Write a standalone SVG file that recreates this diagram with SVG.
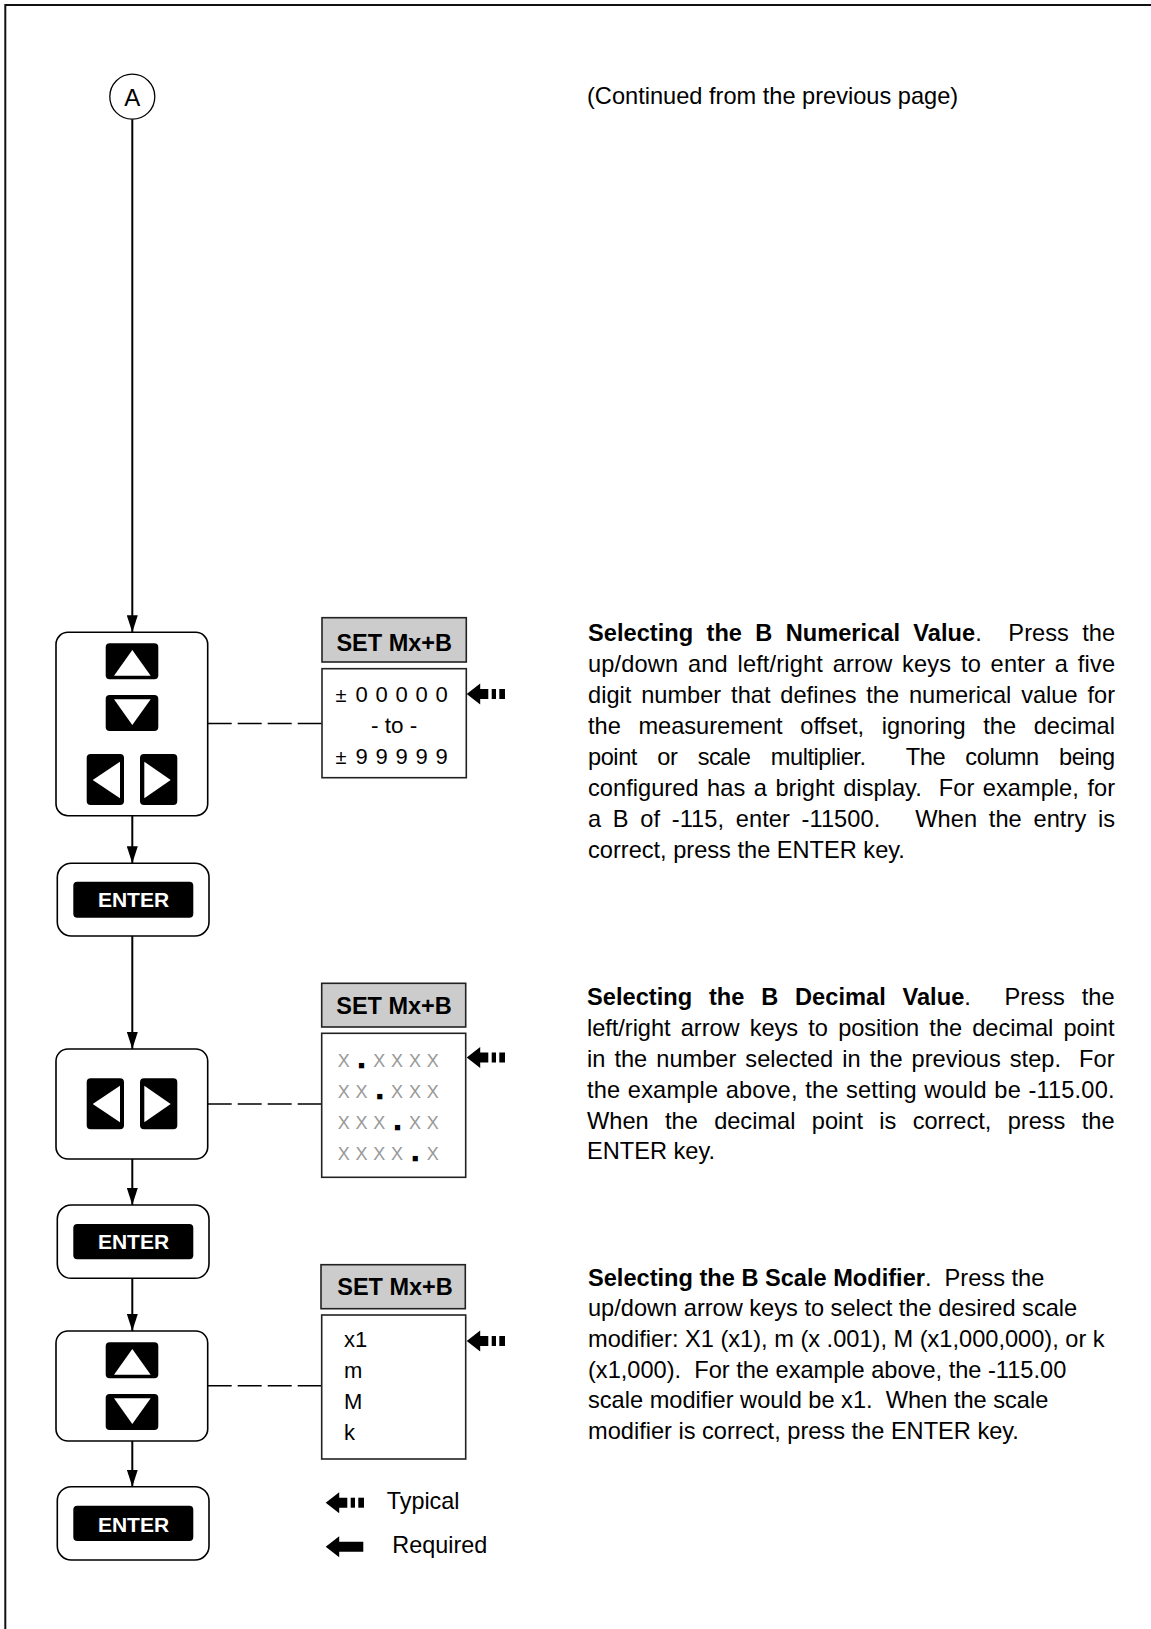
<svg xmlns="http://www.w3.org/2000/svg" xmlns:xlink="http://www.w3.org/1999/xlink" width="1151" height="1629" viewBox="0 0 1151 1629">
<style>
  .txt { font-family: "Liberation Sans", Arial, sans-serif; fill: #000; }
  .p { font-family: "Liberation Sans", Arial, sans-serif; font-size: 23.6px; fill: #000; }
  .b { font-weight: bold; }
  .pad { fill: #fff; stroke: #000; stroke-width: 1.6; }
  .key { fill: #000; }
  .tri { fill: #fff; }
  .hdr { fill: #cccccc; stroke: #222; stroke-width: 1.6; }
  .hdrtxt { font-family: "Liberation Sans", Arial, sans-serif; font-weight: bold; font-size: 23.5px; fill: #000; text-anchor: middle; }
  .disp { fill: #fff; stroke: #222; stroke-width: 1.6; }
  .entertxt { font-family: "Liberation Sans", Arial, sans-serif; font-weight: bold; font-size: 21px; fill: #fff; text-anchor: middle; }
  .flow { stroke: #000; stroke-width: 2; fill: none; marker-end: url(#ah); }
  .dash { stroke: #000; stroke-width: 1.5; fill: none; stroke-dasharray: 24 6; }
  .xrow { font-size: 18px; }
  .xg { fill: #999; }
  .dot { fill: #000; stroke: #000; stroke-width: 2.6; font-weight: bold; }
</style>
<defs>
  <marker id="ah" markerUnits="userSpaceOnUse" markerWidth="17" markerHeight="11" viewBox="0 0 17 11" refX="17" refY="5.5" orient="auto">
    <path d="M0,0 L17,5.5 L0,11 Z" fill="#000"/>
  </marker>
  <g id="typ">
    <path d="M0,0 L13.5,-10.5 L13.5,-5 L21.6,-5 L21.6,5 L13.5,5 L13.5,10.5 Z" fill="#000"/>
    <rect x="25" y="-5" width="4.3" height="10" fill="#000"/>
    <rect x="32.6" y="-5" width="5.7" height="10" fill="#000"/>
  </g>
  <g id="req">
    <path d="M0,0 L13.5,-10.5 L13.5,-5 L37.6,-5 L37.6,5 L13.5,5 L13.5,10.5 Z" fill="#000"/>
  </g>
</defs>
<rect x="0" y="0" width="1151" height="1629" fill="#fff"/>
<path d="M5.3,1629 V5 H1151" fill="none" stroke="#111" stroke-width="2"/>

<g id="connectors">
  <line class="flow" x1="132.3" y1="119.3" x2="132.3" y2="632.3"/>
  <line class="flow" x1="132.3" y1="815.7" x2="132.3" y2="863.3"/>
  <line class="flow" x1="132.3" y1="936" x2="132.3" y2="1049"/>
  <line class="flow" x1="132.3" y1="1159" x2="132.3" y2="1205"/>
  <line class="flow" x1="132.3" y1="1278.3" x2="132.3" y2="1331"/>
  <line class="flow" x1="132.3" y1="1441" x2="132.3" y2="1486.7"/>
  <line class="dash" x1="207.7" y1="723.5" x2="322" y2="723.5"/>
  <line class="dash" x1="207.7" y1="1104" x2="321.7" y2="1104"/>
  <line class="dash" x1="207.7" y1="1385.7" x2="321.7" y2="1385.7"/>
</g>

<g id="nodeA">
  <circle cx="132.3" cy="96.7" r="22.5" fill="#fff" stroke="#000" stroke-width="1.3"/>
  <text class="txt" x="132.3" y="105.5" font-size="24" text-anchor="middle">A</text>
</g>

<text id="continued" class="txt" x="587" y="104" font-size="23.6">(Continued from the previous page)</text>

<g id="keypad1">
  <rect class="pad" x="56" y="632.3" width="151.7" height="183.4" rx="12"/>
  <rect class="key" x="105.7" y="643.3" width="52.6" height="36" rx="4"/>
  <polygon class="tri" points="114,675.7 150.7,675.7 132.3,650"/>
  <rect class="key" x="105.7" y="695" width="52.6" height="36" rx="4"/>
  <polygon class="tri" points="114,699.3 150.7,699.3 132.3,725"/>
  <rect class="key" x="86.7" y="754" width="37.3" height="51" rx="4"/>
  <polygon class="tri" points="92.7,780 120,761.7 120,798.3"/>
  <rect class="key" x="140" y="754" width="37.3" height="51" rx="4"/>
  <polygon class="tri" points="144.3,761.7 144.3,798.3 170.7,780"/>
</g>

<g id="enter1">
  <rect class="pad" x="57.3" y="863.3" width="151.7" height="72.7" rx="14"/>
  <rect class="key" x="73.3" y="881.7" width="120" height="36" rx="4"/>
  <text class="entertxt" x="133.5" y="907.3">ENTER</text>
</g>

<g id="keypad2">
  <rect class="pad" x="56" y="1049" width="151.7" height="110" rx="12"/>
  <rect class="key" x="86.7" y="1078.3" width="37.3" height="51" rx="4"/>
  <polygon class="tri" points="92.7,1104 120,1085.7 120,1122.3"/>
  <rect class="key" x="140" y="1078.3" width="37.3" height="51" rx="4"/>
  <polygon class="tri" points="144.3,1085.7 144.3,1122.3 170.7,1104"/>
</g>

<g id="enter2">
  <rect class="pad" x="57.3" y="1205" width="151.7" height="73.3" rx="14"/>
  <rect class="key" x="73.3" y="1224" width="120" height="35.3" rx="4"/>
  <text class="entertxt" x="133.5" y="1249.3">ENTER</text>
</g>

<g id="keypad3">
  <rect class="pad" x="56" y="1331" width="151.7" height="110" rx="12"/>
  <rect class="key" x="105.7" y="1342.3" width="52.6" height="36" rx="4"/>
  <polygon class="tri" points="114,1374.7 150.7,1374.7 132.3,1349"/>
  <rect class="key" x="105.7" y="1394" width="52.6" height="36" rx="4"/>
  <polygon class="tri" points="114,1398.3 150.7,1398.3 132.3,1424"/>
</g>

<g id="enter3">
  <rect class="pad" x="57.3" y="1486.7" width="151.7" height="73.3" rx="14"/>
  <rect class="key" x="73.3" y="1505.7" width="120" height="35.3" rx="4"/>
  <text class="entertxt" x="133.5" y="1531.7">ENTER</text>
</g>

<g id="display1">
  <rect class="hdr" x="322" y="617.7" width="144.3" height="44.3"/>
  <text class="hdrtxt" x="394.2" y="650.7">SET Mx+B</text>
  <rect class="disp" x="322" y="668.7" width="144.3" height="109"/>
  <text class="txt" y="702" font-size="22" text-anchor="middle"><tspan x="341" font-size="20">±</tspan><tspan x="361.7 381.7 401.7 421.7 441.7">00000</tspan></text>
  <text class="txt" x="394.2" y="732.7" font-size="22.5" text-anchor="middle">- to -</text>
  <text class="txt" y="764" font-size="22" text-anchor="middle"><tspan x="341" font-size="20">±</tspan><tspan x="361.7 381.7 401.7 421.7 441.7">99999</tspan></text>
  <use xlink:href="#typ" href="#typ" x="466.7" y="694"/>
</g>

<g id="display2">
  <rect class="hdr" x="321.7" y="983.3" width="144" height="43.7"/>
  <text class="hdrtxt" x="394" y="1014.3">SET Mx+B</text>
  <rect class="disp" x="321.7" y="1033.3" width="144" height="144"/>
  <text class="txt xrow" y="1067.3" text-anchor="middle"><tspan class="xg" x="343.7">X</tspan><tspan class="dot" x="361.5">.</tspan><tspan class="xg" x="379.3 397.1 414.9 432.7">XXXX</tspan></text>
  <text class="txt xrow" y="1098.3" text-anchor="middle"><tspan class="xg" x="343.7 361.5">XX</tspan><tspan class="dot" x="379.8">.</tspan><tspan class="xg" x="397.1 414.9 432.7">XXX</tspan></text>
  <text class="txt xrow" y="1129.3" text-anchor="middle"><tspan class="xg" x="343.7 361.5 379.3">XXX</tspan><tspan class="dot" x="397.4">.</tspan><tspan class="xg" x="414.9 432.7">XX</tspan></text>
  <text class="txt xrow" y="1160" text-anchor="middle"><tspan class="xg" x="343.7 361.5 379.3 397.1">XXXX</tspan><tspan class="dot" x="415.2">.</tspan><tspan class="xg" x="432.7">X</tspan></text>
  <use xlink:href="#typ" href="#typ" x="466.7" y="1057.5"/>
</g>

<g id="display3">
  <rect class="hdr" x="321" y="1264.7" width="144.3" height="44"/>
  <text class="hdrtxt" x="395" y="1295.3">SET Mx+B</text>
  <rect class="disp" x="321.7" y="1315" width="144" height="144"/>
  <text class="txt" x="344" y="1347.3" font-size="22">x1</text>
  <text class="txt" x="344" y="1378.3" font-size="22">m</text>
  <text class="txt" x="344" y="1409" font-size="22">M</text>
  <text class="txt" x="344" y="1440" font-size="22">k</text>
  <use xlink:href="#typ" href="#typ" x="466.7" y="1341"/>
</g>

<g id="legend">
  <use xlink:href="#typ" href="#typ" x="325.7" y="1502.7"/>
  <text class="txt" x="386.7" y="1508.5" font-size="23.4">Typical</text>
  <use xlink:href="#req" href="#req" x="325.7" y="1546.7"/>
  <text class="txt" x="392.3" y="1553.3" font-size="23.4">Required</text>
</g>

<g id="para1">
  <text class="p" xml:space="preserve" x="588" y="640.7" textLength="527" lengthAdjust="spacing" word-spacing="6.7"><tspan class="b">Selecting the B Numerical Value</tspan>.  Press the</text>
  <text class="p" xml:space="preserve" x="588" y="671.7" textLength="527" lengthAdjust="spacing" word-spacing="3">up/down and left/right arrow keys to enter a five</text>
  <text class="p" xml:space="preserve" x="588" y="702.7" textLength="527" lengthAdjust="spacing" word-spacing="3.3">digit number that defines the numerical value for</text>
  <text class="p" xml:space="preserve" x="588" y="733.7" textLength="527" lengthAdjust="spacing" word-spacing="11">the measurement offset, ignoring the decimal</text>
  <text class="p" xml:space="preserve" x="588" y="764.7" textLength="527" lengthAdjust="spacing" word-spacing="14.2">point or scale multiplier.  The column being</text>
  <text class="p" xml:space="preserve" x="588" y="795.7" textLength="527" lengthAdjust="spacing" word-spacing="1.9">configured has a bright display.  For example, for</text>
  <text class="p" xml:space="preserve" x="588" y="826.7" textLength="527" lengthAdjust="spacing" word-spacing="5">a B of -115, enter -11500.   When the entry is</text>
  <text class="p" x="588" y="857.7">correct, press the ENTER key.</text>
</g>

<g id="para2">
  <text class="p" xml:space="preserve" x="587" y="1005.3" textLength="527.5" lengthAdjust="spacing" word-spacing="10.2"><tspan class="b">Selecting the B Decimal Value</tspan>.  Press the</text>
  <text class="p" xml:space="preserve" x="587" y="1036.1" textLength="527.5" lengthAdjust="spacing" word-spacing="3.7">left/right arrow keys to position the decimal point</text>
  <text class="p" xml:space="preserve" x="587" y="1066.9" textLength="527.5" lengthAdjust="spacing" word-spacing="2.5">in the number selected in the previous step.  For</text>
  <text class="p" xml:space="preserve" x="587" y="1097.7" textLength="527.5" lengthAdjust="spacing" word-spacing="0.8">the example above, the setting would be -115.00.</text>
  <text class="p" xml:space="preserve" x="587" y="1128.5" textLength="527.5" lengthAdjust="spacing" word-spacing="9.8">When the decimal point is correct, press the</text>
  <text class="p" x="587" y="1159.3">ENTER key.</text>
</g>

<g id="para3">
  <text class="p" xml:space="preserve" x="588" y="1285.5"><tspan class="b">Selecting the B Scale Modifier</tspan>.  Press the</text>
  <text class="p" x="588" y="1316.2">up/down arrow keys to select the desired scale</text>
  <text class="p" x="588" y="1346.9">modifier: X1 (x1), m (x .001), M (x1,000,000), or k</text>
  <text class="p" xml:space="preserve" x="588" y="1377.6">(x1,000).  For the example above, the -115.00</text>
  <text class="p" xml:space="preserve" x="588" y="1408.3">scale modifier would be x1.  When the scale</text>
  <text class="p" x="588" y="1439">modifier is correct, press the ENTER key.</text>
</g>
</svg>
